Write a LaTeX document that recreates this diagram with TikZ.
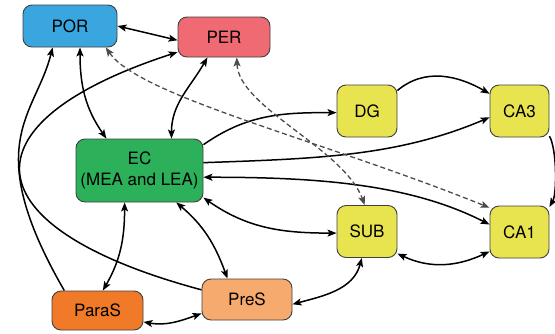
\documentclass[tikz,border=0pt]{standalone}
\usepackage{fontspec}
\setmainfont{TeX Gyre Heros}
\usepackage{tikz}
\usetikzlibrary{arrows.meta}

\definecolor{porblue}{RGB}{57,166,224}
\definecolor{perred}{RGB}{240,106,115}
\definecolor{ecgreen}{RGB}{44,176,90}
\definecolor{hipyellow}{RGB}{232,228,80}
\definecolor{parasorange}{RGB}{240,122,40}
\definecolor{presorange}{RGB}{247,170,110}

\begin{document}
\begin{tikzpicture}[x=1pt, y=1pt,
    region/.style={draw=black!75, line width=0.9pt, rounded corners=9pt, inner sep=0pt,
                   align=center, font=\fontsize{17}{21}\selectfont},
    fwd/.style={-{Stealth[length=9pt,width=7pt,inset=2pt]}, line width=1.5pt},
    bidir/.style={{Stealth[length=9pt,width=7pt,inset=2pt]}-{Stealth[length=9pt,width=7pt,inset=2pt]},
                  line width=1.5pt},
    weak/.style={bidir, dashed, dash pattern=on 5pt off 3pt, draw=black!70, line width=1.3pt}]
      \useasboundingbox (0,0) rectangle (555,-333);

      \node[region, fill=porblue, minimum width=94pt, minimum height=42pt] (POR) at (70,-26) {POR};
      \node[region, fill=perred, minimum width=92pt, minimum height=40pt] (PER) at (224,-37) {PER};
      \node[region, fill=ecgreen, minimum width=127pt, minimum height=63pt] (EC) at (139.5,-170.5) {EC\\(MEA and LEA)};
        \node[region, fill=hipyellow, minimum width=60pt, minimum height=52pt] (DG) at (367,-111) {DG};
        \node[region, fill=hipyellow, minimum width=59pt, minimum height=52pt] (CA3) at (519.5,-111) {CA3};
        \node[region, fill=hipyellow, minimum width=60pt, minimum height=52pt] (SUB) at (367,-231.5) {SUB};
        \node[region, fill=hipyellow, minimum width=59pt, minimum height=52pt] (CA1) at (519.5,-232) {CA1};
      \node[region, fill=parasorange, minimum width=91pt, minimum height=39pt] (ParaS) at (97.5,-310.5) {ParaS};
      \node[region, fill=presorange, minimum width=90pt, minimum height=41pt] (PreS) at (247,-299.5) {PreS};

      \draw[bidir] (POR.east) -- (PER.-176);
      \draw[bidir] (POR.-65) to[out=-90, in=125] (EC.136);
      \draw[bidir] (PER.-129) to[out=-120, in=90] (EC.45);
      \draw[bidir] (EC.-115) to[out=-90, in=60] (ParaS.75);
      \draw[bidir] (EC.-41) to[out=-40, in=110] (PreS.133);
      \draw[bidir] (EC.-23) to[out=-35, in=180] (SUB.183);
      \draw[bidir] (EC.-6) to[out=0, in=153, in distance=90pt] (CA1.166);
      \draw[bidir] (ParaS.-14) to[out=-10, in=-160] (PreS.197);
      \draw[bidir] (SUB.-101) to[out=-105, in=15] (PreS.-6);
      \draw[bidir] (SUB.-36) to[out=-25, in=-155] (CA1.213);

      \draw[fwd] (EC.22) to[out=35, in=180] (DG.183);
      \draw[fwd] (EC.7) to[out=2, in=203, in distance=100pt] (CA3.192);
      \draw[fwd] (DG.34) to[out=40, in=150] (CA3.150);
      \draw[fwd] (CA3.-40) to[out=-60, in=60, out distance=15pt, in distance=15pt] (CA1.40);
      \draw[fwd] (ParaS.149) to[out=120, in=-104, out distance=170pt, in distance=70pt] (POR.-129);
      \draw[fwd] (PreS.168) to[out=165, in=-162, out distance=240pt, in distance=230pt] (PER.-162);

      \draw[weak] (POR.-31) to[out=-55, in=158, out distance=60pt, in distance=180pt] (CA1.141);
      \draw[weak] (PER.-58) to[out=-88, in=110, out distance=50pt, in distance=60pt] (SUB.95);
    \end{tikzpicture}
\end{document}
